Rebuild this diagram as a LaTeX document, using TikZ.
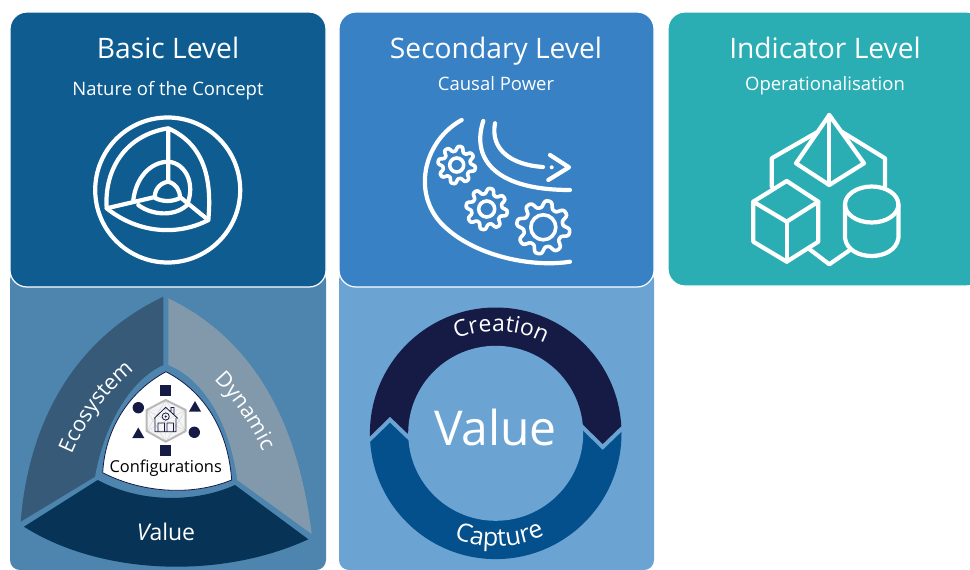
\documentclass[tikz,border=0pt]{standalone}
\usepackage{fontspec}
\setmainfont{Open Sans}
\usetikzlibrary{decorations.text}
\definecolor{cardA}{HTML}{0F5C90}
\definecolor{cardB}{HTML}{3781C4}
\definecolor{cardC}{HTML}{2BADB4}
\definecolor{panelA}{HTML}{4D85AE}
\definecolor{panelB}{HTML}{6BA3D3}
\definecolor{ecoC}{HTML}{365A78}
\definecolor{dynC}{HTML}{8299AB}
\definecolor{valC}{HTML}{063356}
\definecolor{navy}{HTML}{161B45}
\definecolor{capC}{HTML}{04508C}
\newcommand{\fs}[1]{\fontsize{#1}{#1}\selectfont}
\newcommand{\gearshape}[4]{%
  \draw[ico,line width=3.6pt] plot[domain=0:360,samples=145] ({#1+#3*(0.86+0.14*tanh(1.7*sin(8*\x)))*cos(\x)},{#2+#3*(0.86+0.14*tanh(1.7*sin(8*\x)))*sin(\x)}) -- cycle;
  \draw[ico,line width=3.6pt] (#1,#2) circle (#4);}
\tikzset{
  x=1pt,y=-1pt,
  card/.style={draw=white,line width=1.2pt,rounded corners=17pt},
  panel/.style={rounded corners=10pt},
  ico/.style={draw=white,line width=4.2pt,line join=round,line cap=round},
  title/.style={text=white,font=\fs{28.2},anchor=base},
  subtitle/.style={text=white,font=\fs{18.5},anchor=base},
  markfill/.style={fill=navy},
}
\begin{document}
\begin{tikzpicture}
\useasboundingbox (0,0) rectangle (970,570);
\clip (0,0) rectangle (970,570);
\fill[white] (0,0) rectangle (970,570);
% lower panels
\fill[panelA,panel] (10,270) rectangle (326,570);
\fill[panelB,panel] (339,270) rectangle (654,570);
% cards
\filldraw[fill=cardA,card] (10,12) rectangle (326,287);
\filldraw[fill=cardB,card] (339,12) rectangle (654,287);
\filldraw[fill=cardC,card] (668,12) rectangle (983,286);
\node[title] (t1) at (168,58) {Basic Level};
\node[subtitle] (s1) at (168,95) {Nature of the Concept};
\node[title] (t2) at (496,58) {Secondary Level};
\node[subtitle] (s2) at (496,90) {Causal Power};
\node[title] (t3) at (825,58) {Indicator Level};
\node[subtitle] (s3) at (825,90) {Operationalisation};
% icon 1
\draw[ico] (167.7,190) circle (72.5);
\draw[ico] (168.3,128.3) .. controls (125,135) and (104,170) .. (106.7,208.3)
  .. controls (140,235) and (180,235) .. (208.3,220)
  .. controls (212,180) and (205,145) .. (168.3,128.3) -- (168.3,181.7);
\draw[ico] (106.7,208.3) -- (155,197);
\draw[ico] (208.3,220) -- (180,197);
\draw[ico] (133.3,200) .. controls (136,178) and (150,162) .. (168.3,161.7)
  .. controls (185,163) and (196,183) .. (187,205);
\draw[ico] (138.3,205) .. controls (150,214) and (172,218) .. (186.7,205.5);
\draw[ico] (168.3,181.7) .. controls (159,183) and (154,191) .. (155,198)
  .. controls (163,202) and (172,202) .. (180,198)
  .. controls (180,190) and (176,184) .. (168.3,181.7);
% icon 2
\draw[ico] (461.7,120) .. controls (425,140) and (412,190) .. (440,222)
  .. controls (470,255) and (530,268) .. (570,261.7);
\draw[ico] (483.3,121) .. controls (472,155) and (490,190) .. (570,190);
\draw[ico] (495,123.3) .. controls (490,150) and (512,165) .. (543,167);
\draw[ico] (550,155) -- (569,167.3) -- (548.3,180);
\fill[white] (551.7,167.3) circle (2);
\gearshape{456.7}{165}{19}{7}
\gearshape{486.7}{209}{21}{8}
\gearshape{543.3}{227.3}{27}{12.5}
% icon 3
\draw[ico] (771.7,186.7) -- (771.7,158.3) -- (818,131.7);
\draw[ico] (885,186.7) -- (885,158.3) -- (841.7,131.7);
\draw[ico] (808.3,248.3) -- (829.3,264.3) -- (850,250);
\draw[ico] (829.3,115) -- (796,163.3) -- (829.3,185) -- (864,163.3) -- cycle;
\draw[ico] (829.3,115) -- (829.3,185);
\draw[ico] (786.7,181) -- (753.3,201.7) -- (753.3,241.7) -- (786.7,261.7) -- (818.3,241.7) -- (818.3,201.7) -- cycle;
\draw[ico] (753.3,201.7) -- (786.7,221.7) -- (818.3,201.7);
\draw[ico] (786.7,221.7) -- (786.7,261.7);
\draw[ico] (871.7,204.5) ellipse (26.7 and 18);
\draw[ico] (845,204.5) -- (845,238) .. controls (848,262) and (895,262) .. (898.4,238) -- (898.4,204.5);
% triangle segments
\fill[ecoC] (163.3,296.7) -- (163.3,365) .. controls (130,380) and (104,425) .. (95,476.7)
  -- (20.7,521.7) .. controls (27,440) and (62,345) .. (163.3,296.7) -- cycle;
\fill[dynC] (168.3,298.3) -- (168.3,365) .. controls (205,380) and (230,425) .. (237.3,480)
  -- (311.7,534) .. controls (300,440) and (265,345) .. (168.3,298.3) -- cycle;
\fill[valC] (24,526.7) -- (97.7,480) .. controls (140,503) and (195,503) .. (235,485)
  -- (308.3,539.3) .. controls (220,580) and (100,575) .. (24,526.7) -- cycle;
\filldraw[fill=white,draw=navy,line width=.8pt] (166,371.7) .. controls (205,392) and (228,430) .. (231.7,480)
  .. controls (190,497) and (140,492) .. (102.7,472.7)
  .. controls (105,430) and (128,392) .. (166,371.7) -- cycle;
\path[decorate,decoration={text along path,text align=center,text={|\fs{21.5}\color{white}|Ecosystem}}]
  (70,459) .. controls (83,425) and (108,390) .. (138,367);
\path[decorate,decoration={text along path,text align=center,text={|\fs{21.5}\color{white}|Dynamic}}]
  (210,376) .. controls (233,398) and (253,428) .. (265,456);
\node[text=white,font=\fs{23},anchor=base] (val) at (166,540) {{\itshape V}alue};
\node[text=black,font=\fs{16.4},anchor=base] (cfg) at (165.7,472) {Configurations};
% marks
\fill[markfill] (160.2,385.2) rectangle (171.2,396.2);
\fill[markfill] (160.2,445.2) rectangle (171.2,456.2);
\fill[markfill] (138.3,407.7) circle (5.7);
\fill[markfill] (194.3,432.3) circle (5.7);
\fill[markfill] (195,401) -- (201,411.5) -- (189,411.5) -- cycle;
\fill[markfill] (138.3,427.5) -- (144.3,438) -- (132.3,438) -- cycle;
% hexagon emblem
\fill[gray!8] (165.7,400) -- (185.7,410) -- (185.7,431) -- (165.7,441.7) -- (146.7,431) -- (146.7,410) -- cycle;
\draw[gray!35,line width=.4pt] (165.7,400) -- (165.7,441.7) (146.7,410) -- (185.7,431) (185.7,410) -- (146.7,431)
  (165.7,400) -- (146.7,431) -- (185.7,431) -- cycle (165.7,441.7) -- (146.7,410) -- (185.7,410) -- cycle;
\draw[draw=gray!55,line width=2pt,line join=round] (165.7,400) -- (185.7,410) -- (185.7,431) -- (165.7,441.7) -- (146.7,431) -- (146.7,410) -- cycle;
\draw[navy,line width=.8pt] (154.3,418.3) -- (165.7,407.3) -- (177.7,418.3)
  (155,418) -- (155,431.7) -- (176,431.7) -- (176,418)
  (158,431.7) -- (158,423) -- (164.5,423) -- (164.5,431.7)
  (167,431.7) -- (167,423) -- (173.5,423) -- (173.5,431.7)
  (171,411.5) -- (171,407.5) -- (174,407.5) -- (174,414.5);
\draw[navy,line width=.8pt] (165.7,416.5) circle (3.6);
\fill[navy] (165.7,416.5) circle (1.2);
% ring
\begin{scope}
\clip (495.7,433.3) circle (125.8);
\fill[navy] (355,451) -- (390,416.7) -- (430,455) -- (565,407) -- (602.7,444) -- (640,408) -- (640,290) -- (355,290) -- cycle;
\fill[capC] (355,456.7) -- (390,422.7) -- (430,461) -- (565,413) -- (602.7,450) -- (640,414) -- (640,575) -- (355,575) -- cycle;
\end{scope}
\fill[panelB] (495.7,433.3) circle (87.5);
\node[text=white,font=\fs{48},anchor=base] (big) at (495.5,445) {Value};
\path[decorate,decoration={text along path,text align=center,text={|\fs{23}\color{white}|Creation}}]
  plot[domain=-137:-37,samples=40] ({495.7+102*cos(\x)},{433.3+102*sin(\x)});
\path[decorate,decoration={text along path,text align=center,text={|\fs{25}\color{white}|Capture}}]
  plot[domain=138:38,samples=40] ({495.7+113*cos(\x)},{433.3+113*sin(\x)});
\end{tikzpicture}
\end{document}
